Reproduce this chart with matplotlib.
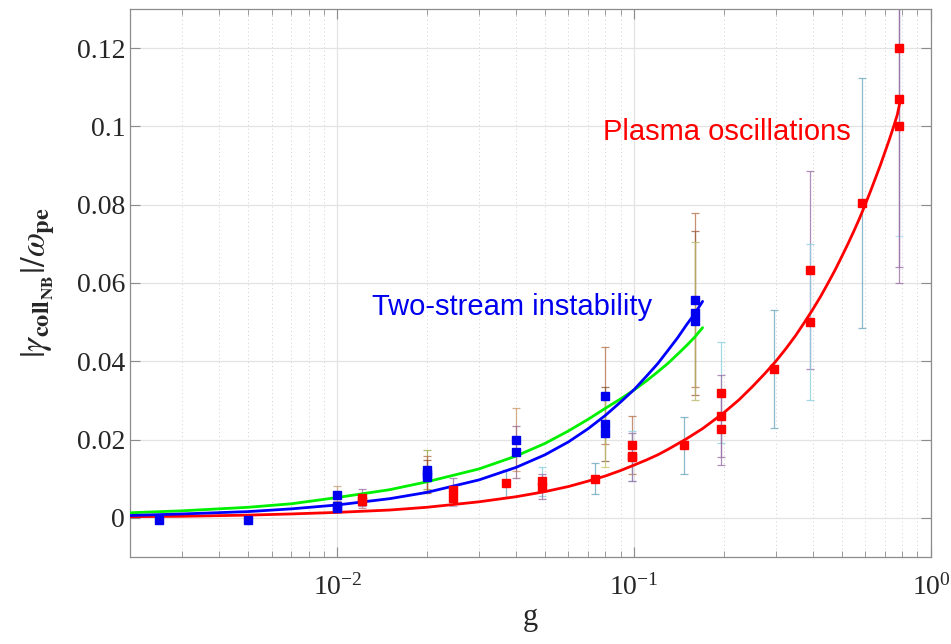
import numpy as np
import matplotlib
matplotlib.use("Agg")
import matplotlib.pyplot as plt
from matplotlib.ticker import LogLocator, FixedLocator, FixedFormatter, LogFormatterSciNotation, NullFormatter

plt.rcParams['font.family'] = ['Liberation Serif', 'DejaVu Serif']
plt.rcParams['mathtext.fontset'] = 'stix'

# ---- data: two-stream instability (blue) ----
ts_g   = [0.0025, 0.005, 0.01, 0.01, 0.01, 0.02, 0.02, 0.02, 0.04, 0.04,
          0.08, 0.08, 0.08, 0.16, 0.16, 0.16]
ts_val = [-0.0005, -0.0005, 0.0058, 0.0030, 0.0025, 0.0123, 0.0113, 0.0105, 0.0200, 0.0168,
          0.0312, 0.0240, 0.0217, 0.0556, 0.0524, 0.0504]
ts_err = [0.0002, 0.0002, 0.0024, 0.0012, 0.0010, 0.0050, 0.0045, 0.0042, 0.0080, 0.0067,
          0.0124, 0.0095, 0.0087, 0.0222, 0.0210, 0.0202]
ts_ecol = ['#c9a27a', '#9fb7d0', '#c9a27a', '#b5838d', '#a7c4d8', '#9aa84a', '#b8754f', '#a0522d',
           '#c99a6a', '#9b6b8e', '#b8754f', '#8b5a3c', '#c8c86a', '#b8754f', '#a0603f', '#b9b96a']

# ---- data: plasma oscillations (red) ----
po_g   = [0.0121, 0.0121, 0.0245, 0.0245, 0.037, 0.049, 0.049, 0.0735, 0.098, 0.098, 0.098,
          0.147, 0.196, 0.196, 0.196, 0.295, 0.39, 0.39, 0.585, 0.78, 0.78, 0.78]
po_val = [0.0052, 0.0042, 0.0072, 0.0052, 0.0088, 0.0093, 0.0080, 0.0100, 0.0186, 0.0159, 0.0155,
          0.0185, 0.0320, 0.0260, 0.0228, 0.0380, 0.0633, 0.0500, 0.0804, 0.1200, 0.1070, 0.1000]
po_err = [0.0021, 0.0017, 0.0029, 0.0021, 0.0035, 0.0037, 0.0032, 0.0040, 0.0075, 0.0064, 0.0062,
          0.0073, 0.0128, 0.0104, 0.0092, 0.0150, 0.0253, 0.0200, 0.0320, 0.0480, 0.0430, 0.0400]
po_ecol = ['#9b72a8', '#c0808a', '#9b72a8', '#b0a0c0', '#6fa8c0', '#8fd0e0', '#9b72a8', '#6fa8c0',
           '#b8754f', '#8fd0e0', '#9b72a8', '#6fa8c0', '#8fd0e0', '#9b72a8', '#9b72a8', '#6fa8c0',
           '#9b72a8', '#8fd0e0', '#6fa8c0', '#a8dcea', '#9b72a8', '#9b72a8']

# ---- fitted curves ----
fit_g_red = [0.002, 0.003, 0.005, 0.007, 0.01, 0.015, 0.02, 0.03, 0.04, 0.05, 0.06, 0.07,
             0.08, 0.09, 0.1, 0.11, 0.12, 0.13, 0.15, 0.17, 0.2, 0.225, 0.25, 0.275, 0.3,
             0.325, 0.35, 0.375, 0.4, 0.425, 0.45, 0.475, 0.5, 0.525, 0.55, 0.575, 0.6,
             0.625, 0.65, 0.675, 0.7, 0.725, 0.75, 0.77, 0.79]
fit_red   = [0.0003, 0.0004, 0.0007, 0.0010, 0.0014, 0.0020, 0.0027, 0.0041, 0.0054, 0.0067,
             0.0080, 0.0094, 0.0107, 0.0121, 0.0135, 0.0148, 0.0161, 0.0175, 0.0202, 0.0228,
             0.0268, 0.0301, 0.0335, 0.0368, 0.0400, 0.0433, 0.0466, 0.0500, 0.0533, 0.0566,
             0.0600, 0.0633, 0.0667, 0.0700, 0.0733, 0.0766, 0.0800, 0.0834, 0.0868, 0.0901,
             0.0935, 0.0968, 0.1002, 0.1030, 0.1070]
fit_g_ts  = [0.002, 0.003, 0.005, 0.007, 0.01, 0.015, 0.02, 0.03, 0.04, 0.05, 0.06, 0.07,
             0.08, 0.09, 0.1, 0.11, 0.12, 0.13, 0.14, 0.15, 0.16, 0.17]
fit_blue  = [0.0006, 0.0010, 0.0016, 0.0023, 0.0033, 0.0049, 0.0065, 0.0097, 0.0129, 0.0161,
             0.0194, 0.0228, 0.0262, 0.0296, 0.0328, 0.0362, 0.0394, 0.0428, 0.0460, 0.0493,
             0.0522, 0.0553]
fit_green = [0.0013, 0.0018, 0.0027, 0.0036, 0.0052, 0.0072, 0.0092, 0.0125, 0.0158, 0.0190,
             0.0222, 0.0252, 0.0280, 0.0304, 0.0327, 0.0350, 0.0373, 0.0395, 0.0418, 0.0440,
             0.0462, 0.0486]

fig = plt.figure(figsize=(9.51, 6.44), dpi=100)
ax = fig.add_axes([130/951, (644-557)/644, (931-130)/951, (557-9)/644])

# error bars
for g, v, e, c in zip(ts_g, ts_val, ts_err, ts_ecol):
    ax.errorbar([g], [v], yerr=[e], fmt='none', ecolor=c, elinewidth=0.9, capsize=3,
                capthick=0.9, alpha=0.8, zorder=2)
for g, v, e, c in zip(po_g, po_val, po_err, po_ecol):
    ax.errorbar([g], [v], yerr=[e], fmt='none', ecolor=c, elinewidth=0.9, capsize=3,
                capthick=0.9, alpha=0.8, zorder=2)

# curves
ax.plot(fit_g_red, fit_red, color='#ff0000', lw=2.0, zorder=3, solid_capstyle='round')
ax.plot(fit_g_ts, fit_green, color='#00f000', lw=2.0, zorder=3, solid_capstyle='round')
ax.plot(fit_g_ts, fit_blue, color='#0000ff', lw=2.0, zorder=3, solid_capstyle='round')

# points
ax.plot(ts_g, ts_val, 's', color='#0000ee', ms=6, mec='#0000ee', zorder=4)
ax.plot(po_g, po_val, 's', color='#ff0000', ms=6, mec='#ff0000', zorder=4)

ax.set_xscale('log')
ax.set_xlim(0.002, 1.0)
ax.set_ylim(-0.01, 0.13)

yt = [0, 0.02, 0.04, 0.06, 0.08, 0.1, 0.12]
ax.yaxis.set_major_locator(FixedLocator(yt))
ax.yaxis.set_major_formatter(FixedFormatter(['0', '0.02', '0.04', '0.06', '0.08', '0.1', '0.12']))
ax.xaxis.set_major_locator(LogLocator(base=10, numticks=10))
ax.xaxis.set_minor_locator(LogLocator(base=10, subs=np.arange(2, 10), numticks=20))
ax.xaxis.set_major_formatter(LogFormatterSciNotation())
ax.xaxis.set_minor_formatter(NullFormatter())

ax.grid(True, which='major', axis='y', color='#e3e3e3', lw=0.9, ls='-')
ax.grid(True, which='major', axis='x', color='#e3e3e3', lw=0.9, ls='-')
ax.grid(True, which='minor', axis='x', color='#d0d0d0', lw=0.7, ls=(0, (1, 3)))
ax.set_axisbelow(True)

for s in ax.spines.values():
    s.set_color('#8c8c8c')
    s.set_linewidth(0.9)
ax.tick_params(which='both', direction='in', top=True, right=True, colors='#8c8c8c',
               labelcolor='#262626', labelsize=20)
ax.tick_params(which='major', length=7)
ax.tick_params(which='minor', length=4)
ax.tick_params(axis='x', pad=12)

ax.set_xlabel('g', fontsize=22, color='#262626', labelpad=2)
ax.set_ylabel(r'$|\gamma_{\mathbf{coll}_{\mathbf{NB}}}|/\omega_{\mathbf{pe}}$', fontsize=25,
              color='#262626', labelpad=14)

ax.text(0.0131, 0.0539, 'Two-stream instability', color='#0000ee', fontsize=21,
        family=['Liberation Sans', 'DejaVu Sans'], ha='left', va='center')
ax.text(0.0783, 0.0986, 'Plasma oscillations', color='#ff0000', fontsize=21,
        family=['Liberation Sans', 'DejaVu Sans'], ha='left', va='center')

fig.savefig('out.png', dpi=100)
